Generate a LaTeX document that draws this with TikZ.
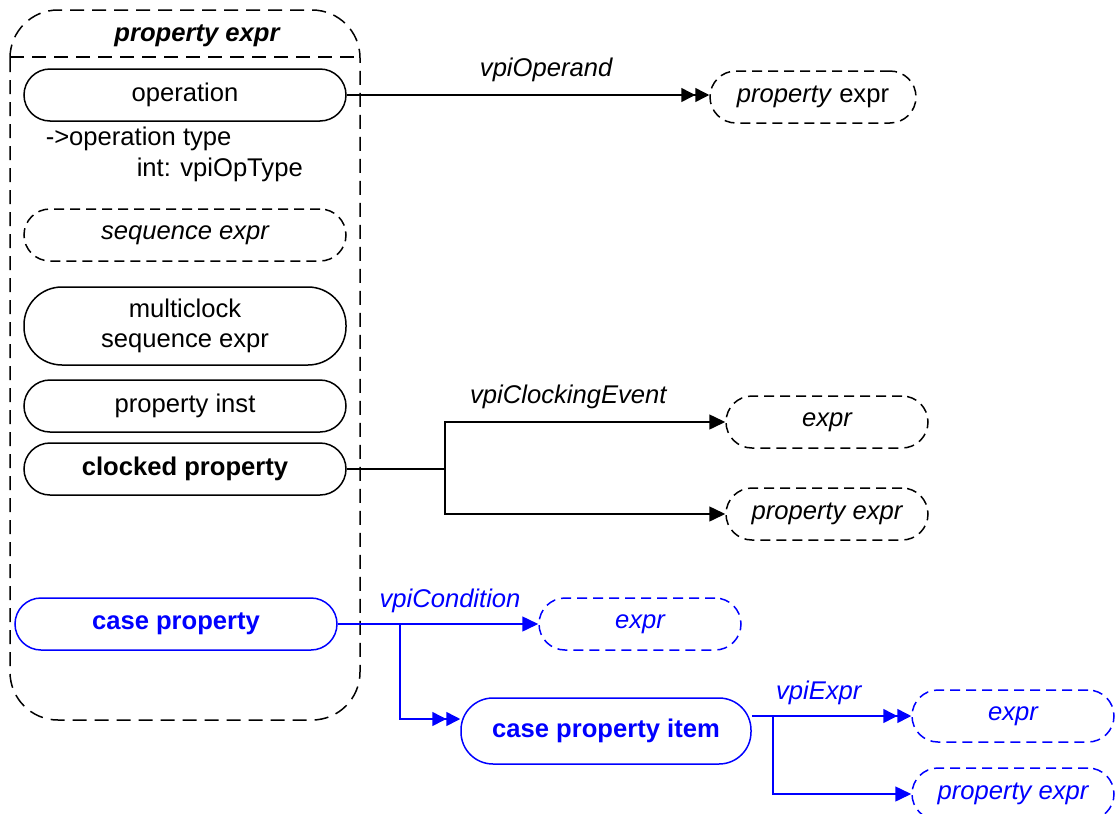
\documentclass[tikz,border=0pt]{standalone}
\usepackage{fontspec}
\setmainfont{Liberation Sans}
\usepackage{xcolor}
\usepackage{tikz}
\usetikzlibrary{arrows.meta}

\definecolor{vpiblue}{RGB}{0,0,255}

\begin{document}
\begin{tikzpicture}[x=0.5pt,y=-0.5pt,
    font=\fontsize{12.8}{15}\selectfont, line width=0.75pt]
    % Define the styles of the object boxes
    \tikzset{
        obj/.style={draw, rounded corners=13pt, minimum width=161pt,
            minimum height=26pt, align=center, inner sep=1pt},
        refbox/.style={obj, dash pattern=on 5pt off 3pt,
            minimum width=101pt, font=\fontsize{12.8}{15}\selectfont\itshape},
        onehead/.style={-{Triangle[length=8pt,width=7.5pt]}},
        twohead/.style={-{Triangle[length=7pt,width=7pt]Triangle[length=7pt,width=7pt]}},
        lbl/.style={font=\fontsize{12.8}{15}\selectfont\itshape}
    }
    \useasboundingbox (0,0) rectangle (1115,814);

    % Draw the property expr class box
    \draw[dash pattern=on 7pt off 4pt, rounded corners=24pt] (10,10) rectangle (360,720);
    \draw[dash pattern=on 7pt off 4pt] (10,57) -- (360,57);
    \node[font=\fontsize{12.8}{15}\selectfont\bfseries\itshape] (title) at (197,36) {property expr};

    % Draw the members of the class
    \node[obj] (operation) at (185,95) {operation};
    \node[anchor=west, inner sep=0pt] (optype) at (45,139) {->operation type};
    \node[anchor=west, inner sep=0pt] (optypeint) at (136,170) {int: vpiOpType};
    \node[refbox, minimum width=161pt] (seqexpr) at (185,235) {sequence expr};
    \node[obj, minimum height=39pt, rounded corners=19pt] (multiclock) at (185,326) {multiclock\\sequence expr};
    \node[obj] (propinst) at (185,406) {property inst};
    \node[obj, font=\fontsize{12.8}{15}\selectfont\bfseries] (clockedprop) at (185,469) {clocked property};
    \node[obj, vpiblue, font=\fontsize{12.8}{15}\selectfont\bfseries] (caseprop) at (176,624) {case property};

    % Draw the referenced objects
    \node[refbox, font=\fontsize{12.8}{15}\selectfont, minimum width=103pt] (opnd) at (813,97) {\textit{property} expr};
    \node[refbox] (clkexpr) at (827,422) {expr};
    \node[refbox] (clkprop) at (827,514) {property expr};
    \node[refbox, vpiblue] (condexpr) at (640,624) {expr};
    \node[obj, vpiblue, font=\fontsize{12.8}{15}\selectfont\bfseries, minimum width=145pt,
        minimum height=33pt, rounded corners=16pt] (caseitem) at (606,731) {case property item};
    \node[refbox, vpiblue] (itemexpr) at (1013,716) {expr};
    \node[refbox, vpiblue] (itemprop) at (1013,794) {property expr};

    % Draw the vpiOperand relation
    \draw[twohead] (operation.east) -- (operation.east -| opnd.west)
        node[lbl, pos=0.55, above=3pt] {vpiOperand};

    % Draw the clocked property relations
    \coordinate (clkfork) at (445,469);
    \draw (clockedprop.east) -- (clkfork);
    \draw[onehead] (clkfork) |- (clkexpr.west)
        node[lbl, pos=0.72, above=3pt] {vpiClockingEvent};
    \draw[onehead] (clkfork) |- (clkprop.west);

    % Draw the case property relations
    \coordinate (condfork) at (400,624);
    \draw[vpiblue, onehead] (caseprop.east) -- (condexpr.west)
        node[lbl, pos=0.56, above=2pt] {vpiCondition};
    \draw[vpiblue, twohead] (condfork) |- ([yshift=6pt]caseitem.west);

    % Draw the case property item relations
    \coordinate (itemfork) at (773,716);
    \draw[vpiblue, twohead] (caseitem.east |- itemfork) -- (itemexpr.west)
        node[lbl, pos=0.42, above=2pt] {vpiExpr};
    \draw[vpiblue, onehead] (itemfork) |- (itemprop.west);
\end{tikzpicture}
\end{document}
